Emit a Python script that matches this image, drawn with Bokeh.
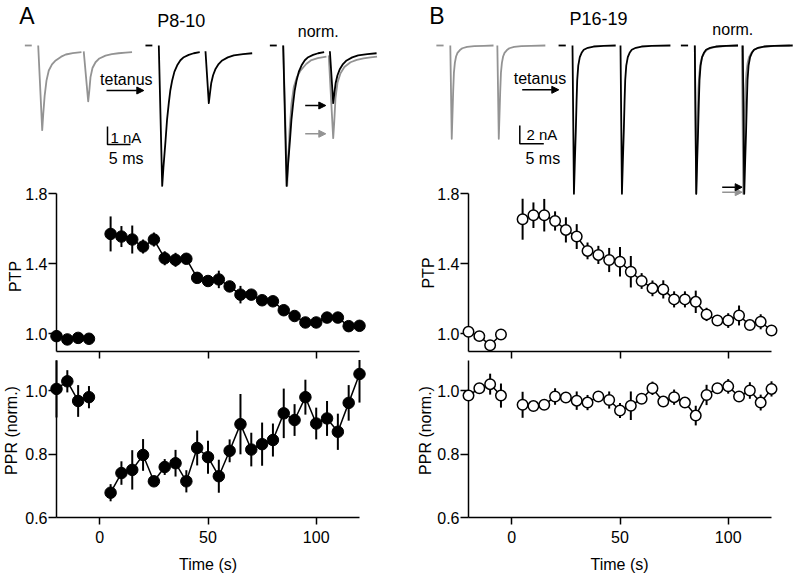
import numpy as np
from bokeh.plotting import figure
from bokeh.models import Range1d, FixedTicker, PrintfTickFormatter, Arrow, NormalHead
from bokeh.layouts import row, column
from bokeh.embed import file_html
from bokeh.resources import INLINE
from bokeh.core.properties import value

# ---------------- summary data (time in s) ----------------
time_pre = [-20, -15, -10, -5]
time_post = [5, 10, 15, 20, 25, 30, 35, 40, 45, 50, 55, 60,
             65, 70, 75, 80, 85, 90, 95, 100, 105, 110, 115, 120]

# Panel A (P8-10)
ptp_a_pre = [0.985, 0.966, 0.975, 0.970]
ptp_a_pre_err = [0.012, 0.010, 0.010, 0.010]
ptp_a_post = [1.569, 1.554, 1.537, 1.497, 1.537, 1.430, 1.421, 1.427, 1.318, 1.300, 1.309, 1.269,
              1.222, 1.222, 1.190, 1.184, 1.133, 1.100, 1.063, 1.063, 1.091, 1.091, 1.042, 1.044]
ptp_a_post_err = [0.100, 0.060, 0.080, 0.040, 0.040, 0.040, 0.040, 0.030, 0.015, 0.015, 0.050, 0.015,
                  0.050, 0.015, 0.015, 0.015, 0.015, 0.015, 0.015, 0.015, 0.015, 0.015, 0.015, 0.015]
ppr_a_pre = [1.005, 1.029, 0.967, 0.979]
ppr_a_pre_err = [0.090, 0.035, 0.050, 0.035]
ppr_a_post = [0.678, 0.740, 0.750, 0.797, 0.714, 0.759, 0.771, 0.714, 0.819, 0.790, 0.730, 0.810,
              0.894, 0.814, 0.831, 0.844, 0.928, 0.907, 0.979, 0.896, 0.912, 0.870, 0.961, 1.052]
ppr_a_post_err = [0.027, 0.037, 0.062, 0.050, 0.015, 0.025, 0.042, 0.035, 0.055, 0.052, 0.052, 0.036,
                  0.095, 0.053, 0.068, 0.052, 0.078, 0.050, 0.055, 0.050, 0.055, 0.057, 0.056, 0.090]

# Panel B (P16-19)
ptp_b_pre = [1.010, 0.985, 0.933, 0.994]
ptp_b_pre_err = [0.012, 0.012, 0.012, 0.012]
ptp_b_post = [1.653, 1.676, 1.676, 1.643, 1.592, 1.554, 1.472, 1.449, 1.420, 1.410, 1.353, 1.300,
              1.258, 1.252, 1.195, 1.195, 1.181, 1.109, 1.074, 1.074, 1.103, 1.048, 1.067, 1.017]
ptp_b_post_err = [0.117, 0.073, 0.093, 0.055, 0.072, 0.071, 0.048, 0.052, 0.069, 0.084, 0.090, 0.045,
                  0.045, 0.052, 0.046, 0.046, 0.064, 0.038, 0.020, 0.042, 0.057, 0.020, 0.043, 0.020]
ppr_b_pre = [0.984, 1.007, 1.020, 0.984]
ppr_b_pre_err = [0.015, 0.015, 0.033, 0.038]
ppr_b_post = [0.955, 0.951, 0.955, 0.981, 0.978, 0.968, 0.962, 0.981, 0.970, 0.937, 0.952, 0.974,
              1.007, 0.965, 0.979, 0.962, 0.921, 0.986, 1.007, 1.013, 0.981, 1.000, 0.962, 1.005]
ppr_b_post_err = [0.041, 0.015, 0.015, 0.026, 0.015, 0.029, 0.024, 0.015, 0.027, 0.024, 0.045, 0.015,
                  0.021, 0.015, 0.024, 0.015, 0.031, 0.032, 0.015, 0.023, 0.015, 0.026, 0.025, 0.024]

# ---------------- example EPSC traces (ms from 1st stimulus, nA) ----------------
trace_base_t = [-2.9, -1.4]
trace_base_i = [0.0, 0.0]

# P8-10, before tetanus (grey)
a_pre_t1 = [0, 0.87, 1.1, 1.4, 1.8, 2.3, 3.0, 3.8, 5.0, 6.0, 7.5, 9.4]
a_pre_i1 = [0, -4.7, -3.8, -2.8, -1.95, -1.39, -1.05, -0.83, -0.62, -0.50, -0.42, -0.37]
a_pre_t2 = [9.9, 10.87, 11.1, 11.37, 11.8, 12.46, 13.3, 14.63, 16.0, 17.46, 19.0, 20.4]
a_pre_i2 = [-0.33, -3.1, -2.55, -1.76, -1.25, -0.93, -0.72, -0.56, -0.48, -0.43, -0.40, -0.37]
# P8-10, after tetanus (black)
a_post_t1 = [0, 0.74, 1.0, 1.46, 1.8, 2.17, 2.5, 2.91, 3.4, 4.0, 4.7, 5.43, 6.5, 7.6, 8.9]
a_post_i1 = [0, -7.8, -6.8, -5.3, -4.1, -3.2, -2.5, -1.94, -1.45, -1.1, -0.82, -0.65, -0.52, -0.43, -0.37]
a_post_t2 = [10.15, 10.87, 11.1, 11.39, 11.8, 12.33, 13.0, 13.78, 15.0, 16.3, 18.3, 20.3]
a_post_i2 = [-0.32, -3.2, -2.7, -2.1, -1.65, -1.3, -1.03, -0.83, -0.66, -0.55, -0.48, -0.43]

# P16-19, before tetanus (grey)
b_pre_t1 = [0, 0.3, 0.45, 0.6, 0.75, 0.95, 1.2, 1.5, 2.0, 2.5, 3.5, 5.0, 7.0, 9.0]
b_pre_i1 = [0, -10.2, -7.6, -5.0, -3.0, -1.9, -1.2, -0.8, -0.5, -0.3, -0.15, -0.07, -0.03, 0]
b_pre_t2 = [9.8, 10.1, 10.25, 10.4, 10.55, 10.75, 11.0, 11.3, 11.8, 12.3, 13.3, 14.8, 16.8, 19.8]
b_pre_i2 = [0, -10.2, -7.6, -5.0, -3.0, -1.9, -1.2, -0.8, -0.5, -0.3, -0.15, -0.07, -0.03, 0]
# P16-19, after tetanus (black)
b_post_t1 = [0, 0.3, 0.5, 0.69, 0.85, 0.98, 1.2, 1.52, 1.9, 2.35, 3.2, 4.4, 6.5, 9.0]
b_post_i1 = [0, -16.2, -12.5, -9.3, -6.0, -3.8, -2.2, -1.28, -0.8, -0.47, -0.25, -0.11, -0.04, 0]
b_post_t2 = [10.0, 10.3, 10.5, 10.69, 10.85, 10.98, 11.2, 11.52, 11.9, 12.35, 13.2, 14.4, 16.5, 20.4]
b_post_i2 = [0, -16.2, -12.5, -9.3, -6.0, -3.8, -2.2, -1.28, -0.8, -0.47, -0.25, -0.11, -0.04, 0]

scale_a = (5, 1)   # 5 ms, 1 nA
scale_b = (5, 2)   # 5 ms, 2 nA

# ---------------- styling / geometry ----------------
FONT = "Liberation Sans"
GRAY = "#939393"
COL_W = 400
FRAME_W = 303
TOP_H = 360
PTP_FRAME_H = 351
PPR_H = 219
PPR_FRAME_H = 157
PAGE_TOP = 0
PTP_AX_Y = PAGE_TOP + PTP_FRAME_H      # 351
PPR_TOP = PAGE_TOP + TOP_H             # 360
PPR_AX_Y = PPR_TOP + PPR_FRAME_H       # 517
PTP_PX = 175.0
PTP_ONE = 333.0
PPR_PX = 317.5


def style_axis(ax, ticks, tick_out, standoff, size="16px", color="black", fmt=None):
    ax.ticker = FixedTicker(ticks=ticks, minor_ticks=[])
    ax.major_tick_in = 0
    ax.major_tick_out = tick_out
    ax.minor_tick_in = 0
    ax.minor_tick_out = 0
    ax.axis_line_width = 1.5
    ax.axis_line_color = "black"
    ax.major_tick_line_width = 1.5
    ax.major_tick_line_color = "black"
    ax.major_label_text_font = FONT
    ax.major_label_text_font_size = size
    ax.major_label_text_color = color
    ax.major_label_standoff = standoff
    if fmt:
        ax.formatter = PrintfTickFormatter(format=fmt)


def new_fig(h, bl, bb, yr):
    p = figure(width=COL_W, height=h, x_range=Range1d(-20, 120), y_range=yr,
               output_backend="svg", toolbar_location=None,
               min_border_left=bl, min_border_right=COL_W - bl - FRAME_W,
               min_border_top=0, min_border_bottom=bb)
    p.outline_line_color = None
    p.xgrid.visible = False
    p.ygrid.visible = False
    return p


def add_text(p, x, y, txt, size="16px", align="center", angle=0.0):
    p.text(x=[x], y=[y], text=[txt], text_font=value(FONT), text_font_size=size,
           text_align=align, text_baseline="middle", angle=angle, text_color="black",
           x_range_name="px", y_range_name="px", level="overlay")


def add_arrow(p, x0, x1, y, color):
    p.add_layout(Arrow(end=NormalHead(size=7, fill_color=color, line_color=color, line_width=1),
                       x_start=x0, y_start=y, x_end=x1, y_end=y, line_color=color,
                       line_width=1.5, x_range_name="px", y_range_name="px"))


def draw_series(p, tv, vv, ev, open_marker):
    t = np.array(tv, dtype=float)
    v = np.array(vv, dtype=float)
    e = np.array(ev, dtype=float)
    p.line(t, v, line_color="black", line_width=1.5, level="overlay")
    p.segment(t, v - e, t, v + e, line_color="black", line_width=2, level="overlay")
    if open_marker:
        p.scatter(t, v, size=10.5, marker="circle", fill_color="white",
                  line_color="black", line_width=1.5, level="overlay")
    else:
        p.scatter(t, v, size=11.5, marker="circle", fill_color="black",
                  line_color="black", line_width=1, level="overlay")


def build_column(frame_left, page_x0, open_marker, ptp, ppr, traces, tx):
    bl = int(round(frame_left - page_x0))
    fl = bl + page_x0
    # ---------- top: traces + PTP ----------
    yr = Range1d(1.0 - (PTP_AX_Y - PTP_ONE) / PTP_PX, 1.0 + (PTP_ONE - PAGE_TOP) / PTP_PX)
    p = new_fig(TOP_H, bl, TOP_H - PTP_FRAME_H, yr)
    style_axis(p.xaxis[0], [0, 50, 100], 7, 0, size="1px", color=None)
    style_axis(p.yaxis[0], [1.0, 1.4, 1.8], 8, 1, fmt="%.1f")
    p.yaxis[0].bounds = (yr.start, 1.8)

    pxms, pxna, base_y = traces["pxms"], traces["pxna"], traces["base_y"]
    p.extra_x_ranges = {"px": Range1d(fl, fl + FRAME_W), "ms": Range1d(0, FRAME_W / pxms)}
    p.extra_y_ranges = {"px": Range1d(PTP_AX_Y, PAGE_TOP),
                        "nA": Range1d((base_y - PTP_AX_Y) / pxna, (base_y - PAGE_TOP) / pxna)}

    def ms(px):
        return (px - fl) / pxms

    def tr(t_list, i_list, x_onset, color, fac=1.0):
        x = ms(x_onset) + np.array(t_list, dtype=float)
        y = np.array(i_list, dtype=float) * fac
        p.line(x, y, line_color=color, line_width=1.8, line_join="round",
               x_range_name="ms", y_range_name="nA", level="overlay")

    pre1, pre2, post1, post2 = traces["pre"], traces["pre2"], traces["post"], traces["post2"]
    gx, kx, nx = traces["onsets"]
    norm_fac = min(post1[1]) / min(pre1[1])
    # grey (control)
    tr(trace_base_t, trace_base_i, gx, GRAY)
    tr(pre1[0], pre1[1], gx, GRAY)
    tr(pre2[0], pre2[1], gx, GRAY)
    # black (post tetanus)
    tr(trace_base_t, trace_base_i, kx, "black")
    tr(post1[0], post1[1], kx, "black")
    tr(post2[0], post2[1], kx, "black")
    # normalized overlay
    tr(trace_base_t, trace_base_i, nx, "black")
    tr(pre1[0], pre1[1], nx, GRAY, norm_fac)
    tr(pre2[0], pre2[1], nx, GRAY, norm_fac)
    tr(post1[0], post1[1], nx, "black")
    tr(post2[0], post2[1], nx, "black")

    # scale bar
    sbx, sby = traces["scalebar"]
    sms, sna = traces["scale"]
    x0 = ms(sbx)
    y0 = (base_y - sby) / pxna
    p.line([x0, x0, x0 + sms], [y0 + sna, y0, y0], line_color="black", line_width=1.5,
           x_range_name="ms", y_range_name="nA", level="overlay")

    # arrows
    ta = tx["tet_arrow"]
    add_arrow(p, ta[0], ta[1], ta[2], "black")
    na = tx["norm_arrows"]
    add_arrow(p, na[0], na[1], na[3], GRAY)
    add_arrow(p, na[0], na[1], na[2], "black")

    # texts
    for (s, x, y, size, align) in tx["labels"]:
        add_text(p, x, y, s, size=size, align=align)
    add_text(p, tx["ptp_lab"][0], tx["ptp_lab"][1], "PTP", angle=np.pi / 2)

    draw_series(p, time_pre, ptp[0], ptp[1], open_marker)
    draw_series(p, time_post, ptp[2], ptp[3], open_marker)

    # ---------- bottom: PPR ----------
    q = new_fig(PPR_H, bl, PPR_H - PPR_FRAME_H, Range1d(0.6, 0.6 + PPR_FRAME_H / PPR_PX))
    style_axis(q.xaxis[0], [0, 50, 100], 7, 6)
    style_axis(q.yaxis[0], [0.6, 0.8, 1.0], 8, 1, fmt="%.1f")
    q.extra_x_ranges = {"px": Range1d(fl, fl + FRAME_W)}
    q.extra_y_ranges = {"px": Range1d(PPR_AX_Y, PPR_TOP)}
    add_text(q, tx["ppr_lab"][0], tx["ppr_lab"][1], "PPR (norm.)", angle=np.pi / 2)
    add_text(q, tx["time_lab"][0], tx["time_lab"][1], "Time (s)")
    draw_series(q, time_pre, ppr[0], ppr[1], open_marker)
    draw_series(q, time_post, ppr[2], ppr[3], open_marker)
    return column(p, q)


col_a = build_column(
    56, 0, False,
    (ptp_a_pre, ptp_a_pre_err, ptp_a_post, ptp_a_post_err),
    (ppr_a_pre, ppr_a_pre_err, ppr_a_post, ppr_a_post_err),
    dict(pxms=4.6, pxna=18.0, base_y=45.0, onsets=(37.7, 158.3, 282.7),
         pre=(a_pre_t1, a_pre_i1), pre2=(a_pre_t2, a_pre_i2),
         post=(a_post_t1, a_post_i1), post2=(a_post_t2, a_post_i2),
         scalebar=(107.0, 144.0), scale=scale_a),
    dict(tet_arrow=(106.0, 143.3, 90.0), norm_arrows=(304.7, 325.3, 105.0, 133.3),
         labels=[("A", 26.5, 15.6, "23px", "center"),
                 ("P8-10", 180.8, 20.4, "18px", "center"),
                 ("norm.", 317.7, 31.1, "16px", "center"),
                 ("tetanus", 125.8, 79.4, "16px", "center"),
                 ("1 nA", 110.0, 136.5, "15px", "left"),
                 ("5 ms", 108.3, 157.7, "16px", "left")],
         ptp_lab=(15.0, 276.0), ppr_lab=(11.0, 430.0), time_lab=(207.5, 564.0)))

col_b = build_column(
    468, 400, True,
    (ptp_b_pre, ptp_b_pre_err, ptp_b_post, ptp_b_post_err),
    (ppr_b_pre, ppr_b_pre_err, ppr_b_post, ppr_b_post_err),
    dict(pxms=4.8, pxna=9.15, base_y=45.0, onsets=(449.8, 572.0, 694.3),
         pre=(b_pre_t1, b_pre_i1), pre2=(b_pre_t2, b_pre_i2),
         post=(b_post_t1, b_post_i1), post2=(b_post_t2, b_post_i2),
         scalebar=(519.3, 143.3), scale=scale_b),
    dict(tet_arrow=(521.7, 558.3, 89.3), norm_arrows=(721.7, 741.7, 186.7, 191.7),
         labels=[("B", 436.5, 15.0, "23px", "center"),
                 ("P16-19", 598.0, 18.6, "18px", "center"),
                 ("norm.", 732.3, 29.4, "16px", "center"),
                 ("tetanus", 539.5, 77.7, "16px", "center"),
                 ("2 nA", 526.0, 134.0, "15px", "left"),
                 ("5 ms", 525.0, 157.7, "16px", "left")],
         ptp_lab=(427.5, 272.5), ppr_lab=(425.0, 430.0), time_lab=(619.0, 564.0)))

layout = row(col_a, col_b)
open("out.html", "w").write(file_html(layout, INLINE))
